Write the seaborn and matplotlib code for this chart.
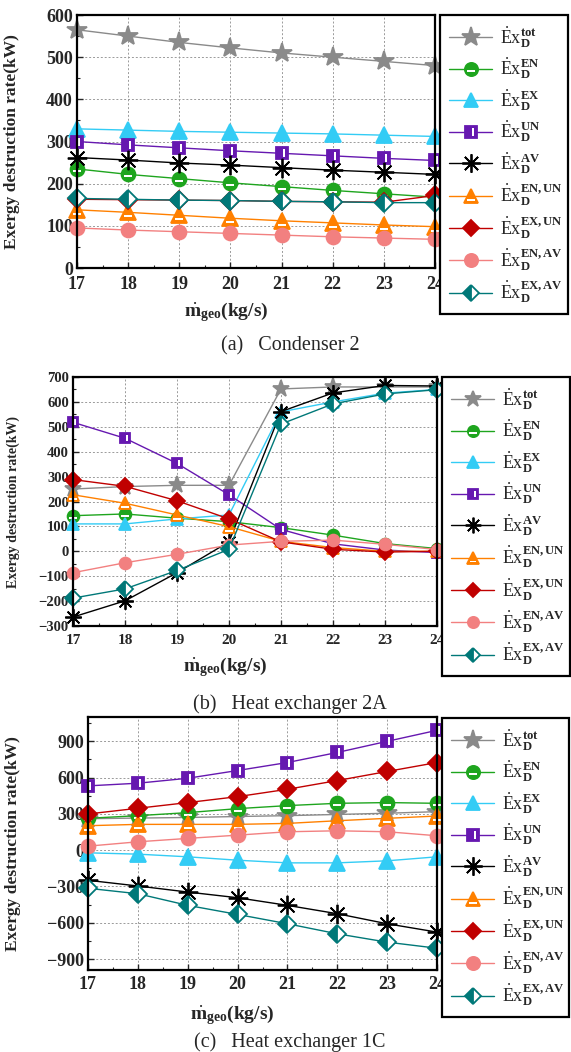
import matplotlib
matplotlib.use("Agg")
import matplotlib.pyplot as plt
import seaborn as sns
from matplotlib.path import Path
from matplotlib.ticker import MultipleLocator

# Geothermal mass flow rate (kg/s)
mass_flow = [17, 18, 19, 20, 21, 22, 23, 24]
superscripts = ["tot", "EN", "EX", "UN", "AV", "EN,UN", "EX,UN", "EN,AV", "EX,AV"]

# (a) Condenser 2 — exergy destruction rates (kW)
cond_tot = [565, 550, 535, 522, 510, 500, 490, 480]
cond_en = [235, 222, 212, 202, 193, 184, 176, 168]
cond_ex = [330, 327, 324, 322, 320, 318, 315, 312]
cond_un = [300, 292, 285, 278, 272, 266, 260, 255]
cond_av = [262, 256, 249, 244, 238, 232, 227, 222]
cond_en_un = [138, 132, 125, 118, 112, 107, 102, 98]
cond_ex_un = [163, 162, 161, 160, 158, 157, 156, 172]
cond_en_av = [95, 90, 86, 82, 78, 74, 71, 68]
cond_ex_av = [165, 163, 161, 160, 158, 157, 155, 155]

# (b) Heat exchanger 2A
hx2a_tot = [250, 260, 265, 265, 652, 660, 660, 660]
hx2a_en = [143, 150, 133, 119, 95, 65, 31, 11]
hx2a_ex = [110, 110, 130, 146, 560, 600, 635, 650]
hx2a_un = [518, 454, 353, 227, 88, 30, 5, -5]
hx2a_av = [-264, -199, -86, 38, 561, 636, 666, 664]
hx2a_en_un = [227, 193, 146, 99, 40, 15, 0, 0]
hx2a_ex_un = [288, 261, 203, 130, 38, 8, -3, 0]
hx2a_en_av = [-86, -46, -12, 25, 40, 45, 28, 7]
hx2a_ex_av = [-188, -151, -77, 8, 511, 592, 632, 649]

# (c) Heat exchanger 1C
hx1c_tot = [260, 265, 270, 278, 285, 295, 305, 318]
hx1c_en = [263, 285, 310, 343, 368, 387, 393, 387]
hx1c_ex = [-22, -33, -55, -83, -105, -105, -88, -55]
hx1c_un = [531, 553, 594, 658, 724, 807, 899, 990]
hx1c_av = [-249, -296, -346, -393, -456, -525, -608, -677]
hx1c_en_un = [202, 213, 213, 213, 221, 243, 263, 282]
hx1c_ex_un = [299, 346, 393, 442, 503, 575, 650, 724]
hx1c_en_av = [33, 69, 97, 124, 152, 160, 152, 119]
hx1c_ex_av = [-315, -360, -456, -531, -608, -691, -760, -810]

panels = [
    ("(a)   Condenser 2",
     [cond_tot, cond_en, cond_ex, cond_un, cond_av, cond_en_un, cond_ex_un, cond_en_av, cond_ex_av]),
    ("(b)   Heat exchanger 2A",
     [hx2a_tot, hx2a_en, hx2a_ex, hx2a_un, hx2a_av, hx2a_en_un, hx2a_ex_un, hx2a_en_av, hx2a_ex_av]),
    ("(c)   Heat exchanger 1C",
     [hx1c_tot, hx1c_en, hx1c_ex, hx1c_un, hx1c_av, hx1c_en_un, hx1c_ex_un, hx1c_en_av, hx1c_ex_av]),
]

sns.set_theme(style="white")
plt.rcParams["font.family"] = ["Liberation Serif", "DejaVu Serif"]
plt.rcParams["mathtext.fontset"] = "custom"
plt.rcParams["mathtext.rm"] = "Liberation Serif"
plt.rcParams["mathtext.bf"] = "Liberation Serif:bold"
plt.rcParams["mathtext.it"] = "Liberation Serif:italic"


def bar(x0, x1, y0, y1):
    """White bar inside a symbol, coordinates in units of the symbol size."""
    verts = [(x0, y0), (x1, y0), (x1, y1), (x0, y1), (x0, y0)]
    codes = [Path.MOVETO, Path.LINETO, Path.LINETO, Path.LINETO, Path.CLOSEPOLY]
    extent = max(abs(v) for p in verts for v in p)
    return Path(verts, codes), 2 * extent


series_style = [
    dict(color="#8a8a8a", marker="*", ms=15, fillstyle="full", bar=None),
    dict(color="#1ea51e", marker="o", ms=10, fillstyle="full", bar=bar(-0.32, 0.32, -0.24, -0.06)),
    dict(color="#33ccf5", marker="^", ms=11, fillstyle="full", bar=None),
    dict(color="#6618b0", marker="s", ms=9, fillstyle="full", bar=bar(0.06, 0.26, -0.32, 0.32)),
    dict(color="#000000", marker=(8, 2, 0), ms=14, fillstyle="full", bar=None),
    dict(color="#ff8000", marker="^", ms=11, fillstyle="full", bar=bar(-0.27, 0.27, -0.36, -0.22)),
    dict(color="#c00000", marker="D", ms=9, fillstyle="full", bar=None),
    dict(color="#f28080", marker="o", ms=10, fillstyle="full", bar=None),
    dict(color="#007878", marker="D", ms=9, fillstyle="left", bar=None),
]

W, H = 571, 1052
fig = plt.figure(figsize=(W / 100, H / 100), dpi=100)


def box(l, t, r, b):
    return [l / W, 1 - b / H, (r - l) / W, (b - t) / H]


layout = [
    dict(ax=(77, 15, 435, 268), leg=(440, 15, 568, 268), ylim=(0, 600), major=100, minor=50,
         xfs=13, tfs=13, yfs=12.5, ylx=12, xly=312, capy=346, mscale=1.0, xpad=6),
    dict(ax=(73, 377, 437, 626), leg=(442, 377, 570, 628), ylim=(-300, 700), major=100, minor=50,
         xfs=11, tfs=10.5, yfs=10, ylx=13, xly=667, capy=704, mscale=0.85, xpad=6),
    dict(ax=(88, 717, 437, 970), leg=(442, 718, 569, 972), ylim=(-990, 1100), major=300, minor=150,
         xfs=13, tfs=13, yfs=12.5, ylx=13, xly=1015, capy=1042, mscale=1.0, xpad=4),
]

labels = [r"$\dot{\mathrm{E}}\mathrm{x}_{\mathbf{D}}^{\mathbf{" + s + r"}}$" for s in superscripts]

for (caption, values), lay in zip(panels, layout):
    ax = fig.add_axes(box(*lay["ax"]))
    handles = []
    for vals, st, lab in zip(values, series_style, labels):
        ms = st["ms"] * lay["mscale"]
        sns.lineplot(x=mass_flow, y=vals, ax=ax, color=st["color"], lw=1.0,
                     marker=st["marker"], markersize=ms,
                     markeredgecolor=st["color"], markeredgewidth=1.3,
                     clip_on=False)
        line = ax.lines[-1]
        line.set_fillstyle(st["fillstyle"])
        line.set_markerfacecolor(st["color"])
        line.set_markerfacecoloralt("white")
        if st["bar"] is not None:
            path, rel = st["bar"]
            sns.lineplot(x=mass_flow, y=vals, ax=ax, color="white", linestyle="none",
                         marker=path, markersize=ms * rel, markeredgewidth=0,
                         markerfacecolor="white", clip_on=False)
            handles.append((line, ax.lines[-1]))
        else:
            handles.append(line)
    ax.set_xlim(17, 24)
    ax.set_ylim(*lay["ylim"])
    ax.xaxis.set_major_locator(MultipleLocator(1))
    ax.xaxis.set_minor_locator(MultipleLocator(0.5))
    ax.yaxis.set_major_locator(MultipleLocator(lay["major"]))
    ax.yaxis.set_minor_locator(MultipleLocator(lay["minor"]))
    ax.grid(True, which="major", color="#9a9a9a", linestyle=(0, (2, 2)), linewidth=0.7)
    ax.tick_params(which="both", direction="in", bottom=True, left=True, top=False, right=False)
    ax.tick_params(axis="x", which="both", pad=lay["xpad"], labelsize=lay["xfs"])
    ax.tick_params(axis="y", which="both", pad=3, labelsize=lay["tfs"])
    ax.tick_params(which="major", length=4, width=1.0)
    ax.tick_params(which="minor", length=2.5, width=0.8)
    for t in ax.get_xticklabels() + ax.get_yticklabels():
        t.set_fontweight("bold")
    for sp in ax.spines.values():
        sp.set_color("black")
        sp.set_linewidth(1.6)
    ax.set_xlabel("")
    ax.set_ylabel("")
    l, t, r, b = lay["ax"]
    fig.text(lay["ylx"] / W, 1 - ((t + b) / 2) / H, "Exergy destruction rate(kW)",
             rotation=90, ha="center", va="center", fontsize=lay["yfs"], fontweight="bold")
    fig.text(((l + r) / 2 - 30) / W, 1 - lay["xly"] / H,
             r"$\dot{\mathbf{m}}_{\mathbf{geo}}$" + "(kg/s)",
             ha="center", va="center", fontsize=14, fontweight="bold")
    fig.text(290 / W, 1 - lay["capy"] / H, caption, ha="center", va="center", fontsize=14.5)

    ll, lt, lr, lb = lay["leg"]
    leg = ax.legend(handles, labels, loc="upper left",
                    bbox_to_anchor=(ll / W, 1 - lb / H, (lr - ll) / W, (lb - lt) / H),
                    bbox_transform=fig.transFigure, mode="expand", borderaxespad=0,
                    frameon=True, fancybox=False, edgecolor="black", framealpha=1,
                    fontsize=13, labelspacing=0.32, handlelength=2.4, handletextpad=0.4,
                    borderpad=0.5, markerscale=0.95)
    leg.get_frame().set_linewidth(1.6)

fig.savefig("out.png", dpi=100)
